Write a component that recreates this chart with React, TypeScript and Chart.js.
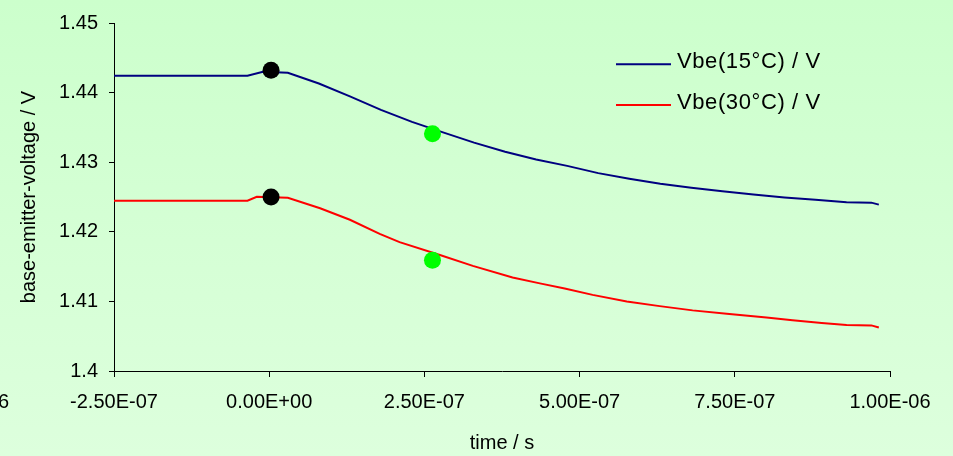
import React, { useEffect, useRef } from "react";
import { Chart, registerables } from "chart.js";

Chart.register(...registerables);

// time in ns, voltage in V
const blueTimeNs = [-250, -35, -10, 30, 80, 130, 180, 230, 280, 330, 380, 430, 480, 530, 580, 630, 680, 730, 780, 830, 880, 930, 970, 982];
const blueVolt = [1.44241, 1.44241, 1.443, 1.44285, 1.4413, 1.43945, 1.43752, 1.4358, 1.43428, 1.43281, 1.4315, 1.4304, 1.42947, 1.42843, 1.42763, 1.4269, 1.42634, 1.42583, 1.42535, 1.42494, 1.42462, 1.42423, 1.42419, 1.4239];

const redTimeNs = [-250, -35, -20, 30, 82, 130, 178, 210, 275, 328, 392, 436, 476, 521, 576, 629, 682, 737, 801, 843, 890, 930, 970, 982];
const redVolt = [1.42447, 1.42447, 1.42504, 1.4249, 1.42338, 1.42173, 1.41969, 1.41851, 1.41666, 1.4151, 1.41344, 1.41259, 1.41185, 1.41094, 1.40999, 1.40932, 1.40871, 1.40824, 1.40767, 1.40729, 1.4069, 1.4066, 1.40655, 1.40625];

const blackDotTimeNs = [3, 3];
const blackDotVolt = [1.4432, 1.425];
const greenDotTimeNs = [263, 263];
const greenDotVolt = [1.4341, 1.4159];

const seriesNames = ["Vbe(15°C) / V", "Vbe(30°C) / V"];
const seriesColors = ["#000080", "#ff0000"];

const xTickValues = [-2.5e-7, 0, 2.5e-7, 5e-7, 7.5e-7, 1e-6];
const xTickLabels = ["-2.50E-07", "0.00E+00", "2.50E-07", "5.00E-07", "7.50E-07", "1.00E-06"];
const yTickValues = [1.4, 1.41, 1.42, 1.43, 1.44, 1.45];
const yTickLabels = ["1.4", "1.41", "1.42", "1.43", "1.44", "1.45"];

const xTitle = "time / s";
const yTitle = "base-emitter-voltage / V";
const clippedLabel = "6";

const FONT = "'Liberation Sans', Arial, sans-serif";

const toPts = (ts: number[], vs: number[]) => ts.map((t, i) => ({ x: t * 1e-9, y: vs[i] }));

const extrasPlugin = {
  id: "extras",
  afterDraw(chart: any) {
    const ctx = chart.ctx;
    ctx.save();
    // legend
    const legendYs = [64.3, 105];
    seriesNames.forEach((name, i) => {
      const y = legendYs[i];
      ctx.strokeStyle = seriesColors[i];
      ctx.lineWidth = 2;
      ctx.beginPath();
      ctx.moveTo(616, y);
      ctx.lineTo(671, y);
      ctx.stroke();
      ctx.fillStyle = "#000";
      ctx.font = `22px ${FONT}`;
      try {
        (ctx as any).letterSpacing = "0.6px";
      } catch (e) {}
      ctx.textAlign = "left";
      ctx.textBaseline = "middle";
      ctx.fillText(name, 677, y - 2);
    });
    try {
      (ctx as any).letterSpacing = "0px";
    } catch (e) {}
    // clipped tick label at the left edge
    ctx.font = `20px ${FONT}`;
    ctx.textAlign = "right";
    ctx.textBaseline = "middle";
    ctx.fillStyle = "#000";
    ctx.fillText(clippedLabel, 9, 402);
    ctx.restore();
  },
};

export default function App() {
  const ref = useRef<HTMLCanvasElement | null>(null);
  useEffect(() => {
    if (!ref.current) return;
    const chart = new Chart(ref.current, {
      type: "scatter",
      data: {
        datasets: [
          {
            label: "black",
            data: toPts(blackDotTimeNs, blackDotVolt),
            showLine: false,
            pointRadius: 8.5,
            pointBackgroundColor: "#000000",
            pointBorderWidth: 0,
            order: 0,
          },
          {
            label: "green",
            data: toPts(greenDotTimeNs, greenDotVolt),
            showLine: false,
            pointRadius: 8.5,
            pointBackgroundColor: "#00ff00",
            pointBorderWidth: 0,
            order: 0,
          },
          {
            label: seriesNames[0],
            data: toPts(blueTimeNs, blueVolt),
            showLine: true,
            borderColor: seriesColors[0],
            borderWidth: 2,
            pointRadius: 0,
            tension: 0,
            order: 1,
          },
          {
            label: seriesNames[1],
            data: toPts(redTimeNs, redVolt),
            showLine: true,
            borderColor: seriesColors[1],
            borderWidth: 2,
            pointRadius: 0,
            tension: 0,
            order: 1,
          },
        ],
      },
      options: {
        animation: false,
        responsive: false,
        devicePixelRatio: 1,
        layout: { padding: { left: 0, right: 63, top: 19, bottom: 0 } },
        plugins: { legend: { display: false }, tooltip: { enabled: false } },
        scales: {
          x: {
            type: "linear",
            min: -2.5e-7,
            max: 1e-6,
            afterFit: (s: any) => {
              s.height = 85;
            },
            afterBuildTicks: (s: any) => {
              s.ticks = xTickValues.map((v) => ({ value: v }));
            },
            ticks: {
              autoSkip: false,
              maxRotation: 0,
              padding: 13,
              color: "#000",
              font: { family: FONT, size: 20 },
              callback: (_v: any, i: number) => xTickLabels[i],
            },
            grid: { drawOnChartArea: false, drawTicks: true, tickLength: 6, color: "#000" },
            border: { display: true, color: "#000", width: 1 },
            title: {
              display: true,
              text: xTitle,
              color: "#000",
              font: { family: FONT, size: 20 },
              padding: { top: 0, bottom: 1 },
            },
          },
          y: {
            type: "linear",
            min: 1.4,
            max: 1.45,
            afterFit: (s: any) => {
              s.width = 114;
            },
            afterBuildTicks: (s: any) => {
              s.ticks = yTickValues.map((v) => ({ value: v }));
            },
            ticks: {
              autoSkip: false,
              padding: 11,
              color: "#000",
              font: { family: FONT, size: 20 },
              callback: (_v: any, i: number) => yTickLabels[i],
            },
            grid: { drawOnChartArea: false, drawTicks: true, tickLength: 5, color: "#000" },
            border: { display: true, color: "#000", width: 1 },
            title: {
              display: true,
              text: yTitle,
              color: "#000",
              font: { family: FONT, size: 20 },
              padding: { top: 17, bottom: 0 },
            },
          },
        },
      },
      plugins: [extrasPlugin],
    });
    return () => chart.destroy();
  }, []);

  return (
    <div
      style={{
        position: "absolute",
        left: 0,
        top: 0,
        width: 953,
        height: 456,
        background: "linear-gradient(to bottom, #ccffcc, #ddffdd)",
      }}
    >
      <canvas ref={ref} width={953} height={456} style={{ display: "block" }} />
    </div>
  );
}
